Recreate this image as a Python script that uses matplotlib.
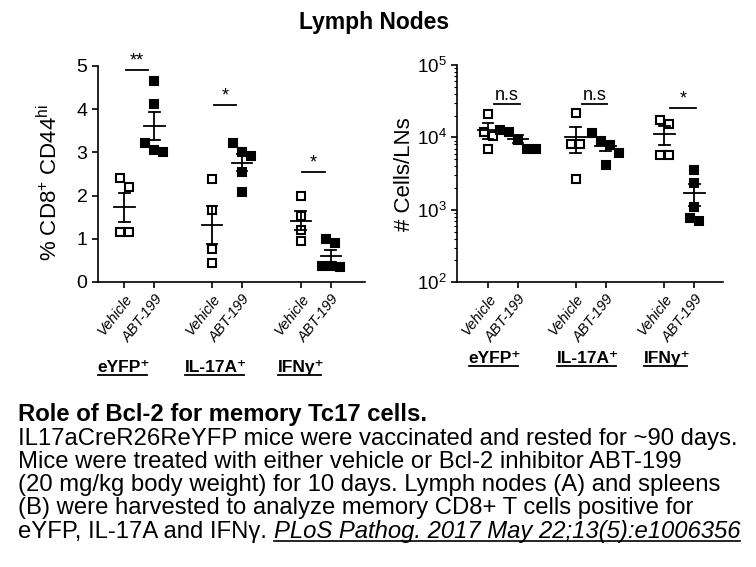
import numpy as np
import matplotlib
matplotlib.use("Agg")
import matplotlib.pyplot as plt
from matplotlib import font_manager as fm
from matplotlib.lines import Line2D

plt.rcParams['font.family'] = ['Liberation Sans', 'DejaVu Sans']
plt.rcParams['mathtext.fontset'] = 'custom'
plt.rcParams['mathtext.rm'] = 'Liberation Sans'
plt.rcParams['mathtext.it'] = 'Liberation Sans:italic'
plt.rcParams['mathtext.bf'] = 'Liberation Sans:bold'

# ---- data ----
groups = ['eYFP', 'IL-17A', 'IFN\u03b3']
treatments = ['Vehicle', 'ABT-199']

# % CD8+ CD44hi
pct_vehicle = [[2.4, 2.2, 1.15, 1.15],
               [2.38, 1.66, 0.77, 0.44],
               [1.98, 1.52, 1.21, 0.96]]
pct_abt = [[4.66, 4.13, 3.21, 3.02, 3.05],
           [3.22, 3.02, 2.92, 2.55, 2.09],
           [0.99, 0.9, 0.38, 0.36, 0.35]]
pct_sig_y = [4.9, 4.1, 2.55]
pct_sig = ['**', '*', '*']

# cells / LNs
cells_vehicle = [[21000, 12000, 10500, 6900],
                 [21500, 8050, 8050, 2700],
                 [17400, 15400, 5750, 5750]]
cells_abt = [[12600, 12000, 9200, 7000, 7000],
             [11600, 8900, 7900, 6100, 4170],
             [3560, 2370, 1080, 710, 780]]
cells_sig_y = [28700, 28700, 25300]
cells_sig = ['n.s', 'n.s', '*']

title = 'Lymph Nodes'
caption_bold = 'Role of Bcl-2 for memory Tc17 cells.'
caption_lines = ['IL17aCreR26ReYFP mice were vaccinated and rested for ~90 days.',
                 'Mice were treated with either vehicle or Bcl-2 inhibitor ABT-199',
                 '(20 mg/kg body weight) for 10 days. Lymph nodes (A) and spleens',
                 '(B) were harvested to analyze memory CD8+ T cells positive for']
caption_last = 'eYFP, IL-17A and IFN\u03b3. '
citation = 'PLoS Pathog. 2017 May 22;13(5):e1006356'

W, H = 756, 567
fig = plt.figure(figsize=(W / 100, H / 100), dpi=100)

centers = np.array([0, 2.92, 5.88])


def spread(vals, tol, step=0.3):
    vals = np.asarray(vals, float)
    order = np.argsort(vals)[::-1]
    offs = np.zeros(len(vals))
    clusters = []
    for i in order:
        if clusters and abs(vals[clusters[-1][-1]] - vals[i]) < tol:
            clusters[-1].append(i)
        else:
            clusters.append([i])
    for c in clusters:
        n = len(c)
        for k, i in enumerate(c):
            offs[i] = (k - (n - 1) / 2) * step
    return offs


def panel(ax, veh, abt, sig_y, sig, log):
    ticks = []
    for g in range(3):
        for j, (vals, filled) in enumerate([(veh[g], False), (abt[g], True)]):
            x0 = centers[g] + (j - 0.5)
            ticks.append(x0)
            v = np.array(vals, float)
            key = np.log10(v) if log else v
            xs = x0 + spread(key, 0.12 if log else 0.22)
            ax.plot(xs, v, 's', ms=6.4, mec='black', mew=1.5,
                    mfc='black' if filled else 'white', zorder=3, clip_on=False)
            m = v.mean()
            se = v.std(ddof=1) / np.sqrt(len(v))
            ax.plot([x0 - 0.34, x0 + 0.34], [m, m], color='black', lw=1.3, zorder=4)
            ax.plot([x0, x0], [m - se, m + se], color='black', lw=1.3, zorder=4)
            for e in (m - se, m + se):
                ax.plot([x0 - 0.18, x0 + 0.18], [e, e], color='black', lw=1.3, zorder=4)
        lo, hi = (-0.3, 0.55) if log else (-0.45, 0.3)
        ax.plot([centers[g] + lo, centers[g] + hi], [sig_y[g], sig_y[g]], color='black', lw=1.3)
        ax.annotate(sig[g], ((centers[g] * 2 + lo + hi) / 2, sig_y[g]), xytext=(0, 0.5),
                    textcoords='offset points', ha='center', va='bottom', fontsize=13)
    ax.set_xticks(ticks)
    ax.set_xticklabels(treatments * 3, rotation=52, ha='right', rotation_mode='anchor',
                       fontsize=10.5, fontstyle='italic')
    for s in ('top', 'right'):
        ax.spines[s].set_visible(False)
    for s in ('left', 'bottom'):
        ax.spines[s].set_linewidth(1.2)
    ax.tick_params(axis='both', which='major', length=4, width=1.2, labelsize=14)
    ax.tick_params(axis='x', labelsize=10.5, pad=3)
    ax.tick_params(axis='y', which='minor', length=2, width=0.8)


axL = fig.add_axes([98 / W, 1 - 282 / H, (365 - 98) / W, (282 - 66) / H])
panel(axL, pct_vehicle, pct_abt, pct_sig_y, pct_sig, False)
axL.set_xlim(-1.383, 7.52)
axL.set_ylim(0, 5)
axL.set_yticks([0, 1, 2, 3, 4, 5])
axL.set_ylabel(r'% CD8$^{+}$ CD44$^{\mathrm{hi}}$', fontsize=16)
axL.yaxis.set_label_coords(-0.135, 0.46)

axR = fig.add_axes([457 / W, 1 - 282.3 / H, (723 - 457) / W, (282.3 - 65) / H])
axR.set_yscale('log')
panel(axR, cells_vehicle, cells_abt, cells_sig_y, cells_sig, True)
axR.set_xlim(-1.533, 7.33)
axR.set_ylim(1e2, 1e5)
axR.tick_params(axis='y', which='major', labelsize=13.5)
axR.set_ylabel('# Cells/LNs', fontsize=16, labelpad=1)

fig.text(374 / W, 1 - 22 / H, title, ha='center', va='center', fontsize=16.5, fontweight='bold')

# group labels under the axes
renderer = fig.canvas.get_renderer()


def underlined(x, y, s, **kw):
    t = fig.text(x / W, 1 - y / H, s, ha='center', va='baseline', **kw)
    bb = t.get_window_extent(renderer)
    fig.add_artist(Line2D([bb.x0 / W, (bb.x1 - 3) / W], [(H - y - 2.5) / H] * 2,
                          color='black', lw=1.3, transform=fig.transFigure))
    return t


label_x_left = [124, 216, 301]
label_x_right = [495, 588, 667]
for g, name in enumerate(groups):
    lab = name + '\u207a'
    underlined(label_x_left[g], 372, lab, fontsize=12.5, fontweight='bold')
    underlined(label_x_right[g], 363, lab, fontsize=12.5, fontweight='bold')

# caption
names = {f.name for f in fm.fontManager.ttflist}
cap_family = 'Liberation Sans Narrow' if 'Liberation Sans Narrow' in names else 'Liberation Sans'
probe = fig.text(0, 0, caption_lines[0], fontsize=16, family=[cap_family, 'DejaVu Sans'])
wpx = probe.get_window_extent(renderer).width
probe.remove()
cap_size = 16 * 720 / wpx

x0 = 18
ys = [421, 445, 468, 491, 514, 538]
fig.text(x0 / W, 1 - ys[0] / H, caption_bold, fontsize=cap_size, fontweight='bold',
         family=[cap_family, 'DejaVu Sans'], va='baseline')
for k, line in enumerate(caption_lines):
    fig.text(x0 / W, 1 - ys[k + 1] / H, line, fontsize=cap_size,
             family=[cap_family, 'DejaVu Sans'], va='baseline')
t1 = fig.text(x0 / W, 1 - ys[5] / H, caption_last, fontsize=cap_size,
              family=[cap_family, 'DejaVu Sans'], va='baseline')
bb = t1.get_window_extent(renderer)
t2 = fig.text(bb.x1 / W, 1 - ys[5] / H, citation, fontsize=cap_size, fontstyle='italic',
              family=[cap_family, 'DejaVu Sans'], va='baseline')
bb2 = t2.get_window_extent(renderer)
fig.add_artist(Line2D([bb2.x0 / W, bb2.x1 / W], [(H - ys[5] - 3) / H] * 2,
                      color='black', lw=1.2, transform=fig.transFigure))

fig.savefig('out.png', dpi=100)
